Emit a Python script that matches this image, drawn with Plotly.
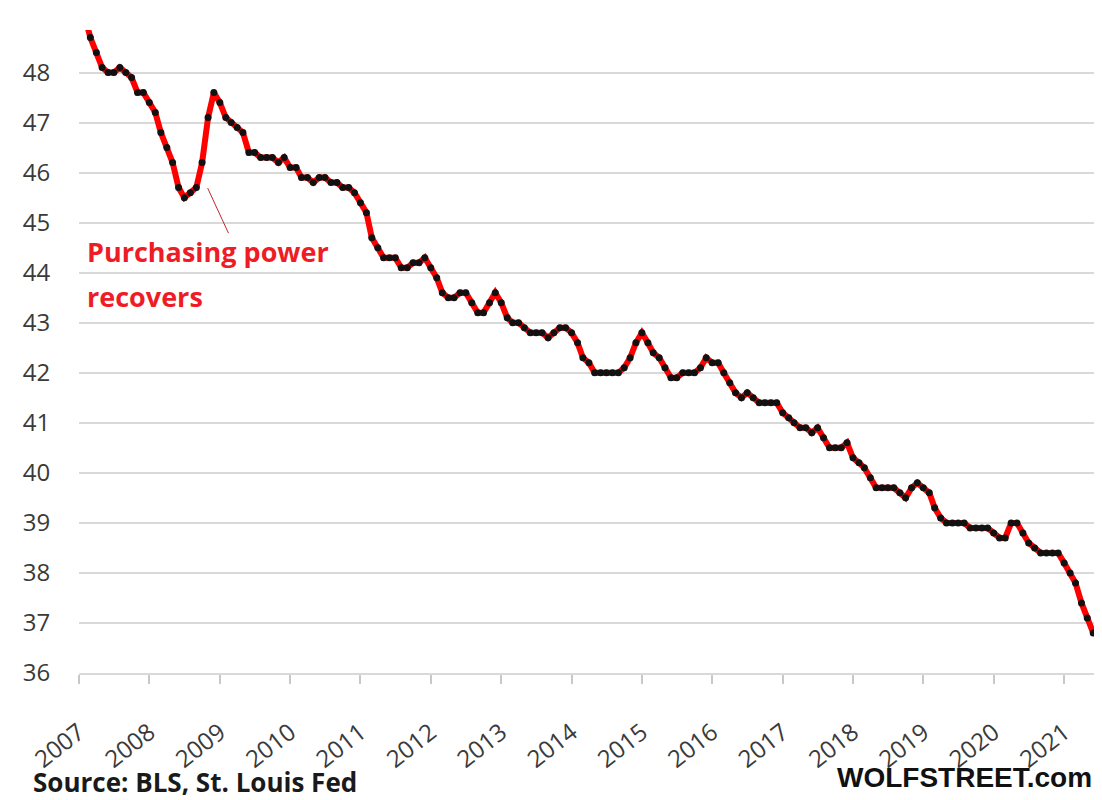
import plotly.graph_objects as go
import pandas as pd

# Purchasing power of the consumer dollar (cents), monthly, Jan 2007 - Jun 2021
start_month = "2007-01-01"
pp_2007 = [49.4, 49.1, 48.7, 48.4, 48.1, 48.0, 48.0, 48.1, 48.0, 47.9, 47.6, 47.6]
pp_2008 = [47.4, 47.2, 46.8, 46.5, 46.2, 45.7, 45.5, 45.6, 45.7, 46.2, 47.1, 47.6]
pp_2009 = [47.4, 47.1, 47.0, 46.9, 46.8, 46.4, 46.4, 46.3, 46.3, 46.3, 46.2, 46.3]
pp_2010 = [46.1, 46.1, 45.9, 45.9, 45.8, 45.9, 45.9, 45.8, 45.8, 45.7, 45.7, 45.6]
pp_2011 = [45.4, 45.2, 44.7, 44.5, 44.3, 44.3, 44.3, 44.1, 44.1, 44.2, 44.2, 44.3]
pp_2012 = [44.1, 43.9, 43.6, 43.5, 43.5, 43.6, 43.6, 43.4, 43.2, 43.2, 43.4, 43.6]
pp_2013 = [43.4, 43.1, 43.0, 43.0, 42.9, 42.8, 42.8, 42.8, 42.7, 42.8, 42.9, 42.9]
pp_2014 = [42.8, 42.6, 42.3, 42.2, 42.0, 42.0, 42.0, 42.0, 42.0, 42.1, 42.3, 42.6]
pp_2015 = [42.8, 42.6, 42.4, 42.3, 42.1, 41.9, 41.9, 42.0, 42.0, 42.0, 42.1, 42.3]
pp_2016 = [42.2, 42.2, 42.0, 41.8, 41.6, 41.5, 41.6, 41.5, 41.4, 41.4, 41.4, 41.4]
pp_2017 = [41.2, 41.1, 41.0, 40.9, 40.9, 40.8, 40.9, 40.7, 40.5, 40.5, 40.5, 40.6]
pp_2018 = [40.3, 40.2, 40.1, 39.9, 39.7, 39.7, 39.7, 39.7, 39.6, 39.5, 39.7, 39.8]
pp_2019 = [39.7, 39.6, 39.3, 39.1, 39.0, 39.0, 39.0, 39.0, 38.9, 38.9, 38.9, 38.9]
pp_2020 = [38.8, 38.7, 38.7, 39.0, 39.0, 38.8, 38.6, 38.5, 38.4, 38.4, 38.4, 38.4]
pp_2021 = [38.2, 38.0, 37.8, 37.4, 37.1, 36.8]

values = (pp_2007 + pp_2008 + pp_2009 + pp_2010 + pp_2011 + pp_2012 + pp_2013 +
          pp_2014 + pp_2015 + pp_2016 + pp_2017 + pp_2018 + pp_2019 + pp_2020 + pp_2021)
dates = pd.date_range(start_month, periods=len(values), freq="MS")

y_ticks = list(range(36, 49))
x_range = ["2007-01-01", "2021-07-01"]
y_range = [36, 48.85]

tick_font = dict(family="Open Sans, sans-serif", size=24, color="#3a3a3a")
note_font = dict(family="Open Sans, sans-serif", size=27, color="#ee1c25")

fig = go.Figure()
fig.add_trace(go.Scatter(
    x=dates, y=values, mode="lines+markers",
    line=dict(color="#ff0000", width=6),
    marker=dict(color="#111111", size=7),
    showlegend=False, hoverinfo="x+y",
))

fig.update_layout(
    width=1094, height=792,
    margin=dict(l=71, r=3, t=22, b=127),
    paper_bgcolor="white", plot_bgcolor="white",
    xaxis=dict(
        type="date", range=x_range, automargin=False,
        tick0="2007-01-01", dtick="M12", tickformat="%Y",
        tickangle=-38,
        ticks="outside", ticklen=34, tickcolor="rgba(0,0,0,0)",
        minor=dict(ticks="outside", ticklen=9, tickcolor="#c8c8c8", tickwidth=1.5,
                   dtick="M12", tick0="2007-01-01 00:30", showgrid=False),
        showgrid=False, showline=True, linecolor="#d9d9d9", linewidth=2,
        tickfont=tick_font, zeroline=False,
    ),
    yaxis=dict(
        range=y_range, automargin=False,
        tickvals=y_ticks,
        showgrid=True, gridcolor="#d9d9d9", gridwidth=2,
        zeroline=False, showline=False,
        ticks="outside", ticklen=23, tickcolor="rgba(0,0,0,0)",
        tickfont=tick_font,
    ),
    annotations=[
        dict(x="2007-02-01", y=44.42, xref="x", yref="y",
             text="<b>Purchasing power</b>", showarrow=False,
             xanchor="left", yanchor="middle", align="left", font=note_font),
        dict(x="2007-02-01", y=43.52, xref="x", yref="y",
             text="<b>recovers</b>", showarrow=False,
             xanchor="left", yanchor="middle", align="left", font=note_font),
        dict(x=-0.047, y=-0.1695, xref="paper", yref="paper",
             text="<b>Source: BLS, St. Louis Fed</b>", showarrow=False,
             xanchor="left", yanchor="middle",
             font=dict(family="Open Sans, sans-serif", size=26, color="#1a1a1a")),
        dict(x=0.995, y=-0.163, xref="paper", yref="paper",
             text="<b>WOLFSTREET.com</b>", showarrow=False,
             xanchor="right", yanchor="middle",
             font=dict(family="Liberation Sans, Arial, sans-serif", size=28, color="#111111")),
    ],
    shapes=[
        dict(type="line", xref="x", yref="y",
             x0="2008-10-30", y0=45.69, x1="2009-02-15", y1=44.79,
             line=dict(color="#c0282d", width=1)),
    ],
)

fig.write_html("out.html")
